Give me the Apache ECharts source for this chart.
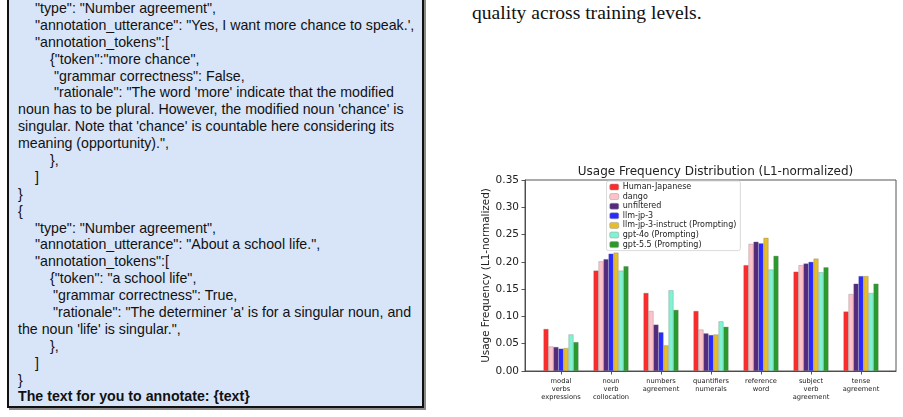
<!DOCTYPE html>
<html>
<head>
<meta charset="utf-8">
<script src="https://cdn.jsdelivr.net/npm/echarts@6/dist/echarts.min.js"></script>
<style>
  html, body { margin:0; padding:0; width:903px; height:417px; overflow:hidden; background:#fff; }
  #box { position:absolute; left:7px; top:-12px; width:417px; height:420px; background:#d8e5f9;
         border:2px solid #111; box-shadow:2px 2px 0 #8a8a8a; box-sizing:border-box; }
  #code { position:absolute; left:0; top:0; font-family:"Liberation Sans", Arial, sans-serif;
          font-size:14.2px; line-height:16.9px; color:#111; white-space:pre; }
  #code div { height:16.9px; }
  #para { position:absolute; left:472px; top:1px; font-family:"Liberation Serif","Times New Roman",serif;
          font-size:19.6px; line-height:24px; color:#111; white-space:pre; }
  #chart { position:absolute; left:0; top:0; width:903px; height:417px; }
</style>
</head>
<body>
<div id="box"></div>
<div id="code"></div>
<div id="para">quality across training levels.</div>
<div id="chart"></div>
<script>
// ---- data ----
const categories = [
  'modal\nverbs\nexpressions', 'noun\nverb\ncollocation', 'numbers\nagreement',
  'quantifiers\nnumerals', 'reference\nword', 'subject\nverb\nagreement', 'tense\nagreement'
];
const seriesNames = [
  'Human-Japanese', 'dango', 'unfiltered', 'llm-jp-3',
  'llm-jp-3-instruct (Prompting)', 'gpt-4o (Prompting)', 'gpt-5.5 (Prompting)'
];
const humanJapanese   = [0.077, 0.184, 0.143, 0.110, 0.194, 0.182, 0.109];
const dango           = [0.045, 0.201, 0.110, 0.076, 0.233, 0.194, 0.141];
const unfiltered      = [0.044, 0.205, 0.085, 0.069, 0.237, 0.197, 0.160];
const llmJp3          = [0.041, 0.215, 0.071, 0.066, 0.234, 0.200, 0.174];
const llmJp3Instruct  = [0.042, 0.217, 0.047, 0.067, 0.244, 0.206, 0.174];
const gpt4o           = [0.067, 0.184, 0.148, 0.091, 0.186, 0.181, 0.143];
const gpt55           = [0.053, 0.192, 0.112, 0.081, 0.211, 0.190, 0.160];
const yTicks = [0.00, 0.05, 0.10, 0.15, 0.20, 0.25, 0.30, 0.35];
const seriesValues = [humanJapanese, dango, unfiltered, llmJp3, llmJp3Instruct, gpt4o, gpt55];
const colors = ['#ff2a2a', '#ffc2ca', '#542a7e', '#2a2aff', '#e6bd2c', '#80f4d2', '#2a9a2a'];

// ---- left text box ----
const codeLines = [
  [35, '"type": "Number agreement",'],
  [35, '"annotation_utterance": "Yes, I want more chance to speak.\',', ],
  [35, '"annotation_tokens":['],
  [50, '{"token":"more chance",'],
  [54, '"grammar correctness": False,'],
  [54, '"rationale": "The word \'more\' indicate that the modified'],
  [18, 'noun has to be plural. However, the modified noun \'chance\' is'],
  [18, 'singular. Note that \'chance\' is countable here considering its'],
  [18, 'meaning (opportunity).",'],
  [50, '},'],
  [35, ']'],
  [18, '}'],
  [18, '{'],
  [35, '"type": "Number agreement",'],
  [35, '"annotation_utterance": "About a school life.",'],
  [35, '"annotation_tokens":['],
  [50, '{"token": "a school life",'],
  [53, '"grammar correctness": True,'],
  [53, '"rationale": "The determiner \'a\' is for a singular noun, and'],
  [18, 'the noun \'life\' is singular.",'],
  [50, '},'],
  [35, ']'],
  [18, '}'],
  [18, 'The text for you to annotate: {text}', true]
];
const codeEl = document.getElementById('code');
codeLines.forEach(l => {
  const d = document.createElement('div');
  d.style.paddingLeft = l[0] + 'px';
  if (l[2]) d.style.fontWeight = 'bold';
  d.textContent = l[1];
  codeEl.appendChild(d);
});

// ---- chart ----
const chart = echarts.init(document.getElementById('chart'));
const FONT = '"DejaVu Sans", sans-serif';
chart.setOption({
  animation: false,
  title: {
    text: 'Usage Frequency Distribution (L1-normalized)',
    left: 710.5, top: 161, textAlign: 'center',
    textStyle: { fontFamily: FONT, fontSize: 12, fontWeight: 'normal', color: '#222' }
  },
  legend: {
    orient: 'vertical', left: 606.5, top: 181, padding: [2, 4, 2, 3],
    itemWidth: 9, itemHeight: 6, itemGap: 1.6,
    backgroundColor: 'rgba(255,255,255,0.85)', borderColor: '#d0d0d0', borderWidth: 0.8, borderRadius: 2,
    textStyle: { fontFamily: FONT, fontSize: 8, color: '#222', lineHeight: 8, padding: [0, 0, 0, -1] },
    data: seriesNames.map((n, i) => ({ name: n, itemStyle: { color: colors[i], borderColor: '#999', borderWidth: 0.5 } }))
  },
  grid: [
    { left: 525, top: 180, width: 371, height: 191, show: true, borderColor: '#444', borderWidth: 0.9, backgroundColor: 'transparent' },
    { left: 536, top: 180, width: 350, height: 191 }
  ],
  xAxis: [
    { gridIndex: 0, type: 'value', min: 0, max: 1, z: 10,
      axisLine: { show: true, lineStyle: { color: '#444', width: 0.9 } },
      axisTick: { show: false }, axisLabel: { show: false }, splitLine: { show: false } },
    { gridIndex: 1, type: 'category', data: categories,
      axisLine: { show: false },
      axisTick: { show: true, alignWithLabel: true, length: 3.5, lineStyle: { color: '#444', width: 0.9 } },
      axisLabel: { fontFamily: FONT, fontSize: 6.7, lineHeight: 8, color: '#222', margin: 6, interval: 0 } }
  ],
  yAxis: [
    { gridIndex: 0, type: 'value', min: 0, max: 0.35, interval: 0.05, z: 10,
      name: 'Usage Frequency (L1-normalized)', nameLocation: 'middle', nameRotate: 90, nameGap: 32,
      nameTextStyle: { fontFamily: FONT, fontSize: 10.4, color: '#222' },
      axisLine: { show: true, lineStyle: { color: '#444', width: 0.9 } },
      axisTick: { show: true, length: 3.5, lineStyle: { color: '#444', width: 0.9 } },
      axisLabel: { fontFamily: FONT, fontSize: 10.5, color: '#222', margin: 6,
        customValues: yTicks, formatter: v => v.toFixed(2) },
      splitLine: { show: false } },
    { gridIndex: 1, type: 'value', min: 0, max: 0.35, show: false }
  ],
  series: seriesNames.map((n, i) => ({
    name: n, type: 'bar', xAxisIndex: 1, yAxisIndex: 1,
    data: seriesValues[i], barWidth: 5, barGap: '0%',
    itemStyle: { color: colors[i], borderColor: 'rgba(110,110,110,0.6)', borderWidth: 0.5 }
  }))
});
</script>
</body>
</html>
